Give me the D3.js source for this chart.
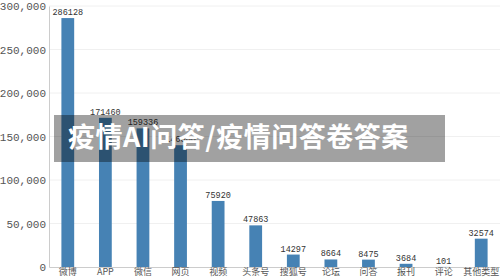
<!DOCTYPE html>
<html>
<head>
<meta charset="utf-8">
<script src="https://cdn.jsdelivr.net/npm/d3@7"></script>
<style>
  body { margin: 0; background: #fff; }
  svg { display: block; }
</style>
</head>
<body>
<div id="chart"></div>
<script>
// data
var categories = ["微博", "APP", "微信", "网页", "视频", "头条号", "搜狐号", "论坛", "问答", "报刊", "评论", "其他类型"];
var counts = [286128, 171460, 159336, 140000, 75920, 47863, 14297, 8664, 8475, 3684, 101, 32574];
var yTicks = [0, 50000, 100000, 150000, 200000, 250000, 300000];
var title = "疫情AI问答/疫情问答卷答案";

var width = 500, height = 278;
var margin = {top: 6, right: 0, bottom: 11, left: 49};

var svg = d3.select("#chart").append("svg")
    .attr("width", width)
    .attr("height", height);

var x = d3.scaleBand()
    .domain(categories)
    .range([margin.left, width - margin.right])
    .paddingInner(0.66)
    .paddingOuter(0.33);

var y = d3.scaleLinear()
    .domain([0, 300000])
    .range([height - margin.bottom, margin.top]);

// grid
svg.append("g").selectAll("line")
    .data(yTicks.slice(1))
    .enter().append("line")
    .attr("x1", margin.left).attr("x2", width)
    .attr("y1", function(d) { return y(d); })
    .attr("y2", function(d) { return y(d); })
    .style("stroke", "#f0f0f0");

// y axis
var yAxis = svg.append("g")
    .attr("transform", "translate(" + margin.left + ",0)")
    .call(d3.axisLeft(y).tickValues(yTicks).tickSize(0).tickPadding(3)
        .tickFormat(d3.format(",")));
yAxis.select(".domain").style("stroke", "#ccc");
yAxis.selectAll("text")
    .style("font-family", "'Liberation Mono', monospace")
    .style("font-size", "11px")
    .style("fill", "#555");

// bars
svg.append("g").selectAll("rect")
    .data(counts)
    .enter().append("rect")
    .attr("x", function(d, i) { return x(categories[i]); })
    .attr("y", function(d) { return y(d); })
    .attr("width", x.bandwidth())
    .attr("height", function(d) { return y(0) - y(d); })
    .style("fill", "#4682b4");

// value labels
svg.append("g").selectAll("text")
    .data(counts)
    .enter().append("text")
    .attr("x", function(d, i) { return x(categories[i]) + x.bandwidth() / 2; })
    .attr("y", function(d) { return y(d) - 3; })
    .attr("text-anchor", "middle")
    .style("font-family", "'Liberation Mono', monospace")
    .style("font-size", "8.5px")
    .style("fill", "#333")
    .text(function(d) { return d; });

// x axis
var xAxis = svg.append("g")
    .attr("transform", "translate(0," + y(0) + ")")
    .call(d3.axisBottom(x).tickSize(0).tickPadding(2));
xAxis.select(".domain").style("stroke", "#ccc");
xAxis.selectAll("text")
    .style("font-family", "'Noto Sans CJK SC', sans-serif")
    .style("font-size", "9px")
    .style("fill", "#555");

// title banner on top
var banner = svg.append("g");
banner.append("rect")
    .attr("x", 54).attr("y", 115)
    .attr("width", 391).attr("height", 47)
    .style("fill", "rgba(0,0,0,0.37)");
banner.append("text")
    .attr("x", 68).attr("y", 147)
    .style("font-family", "'Noto Sans CJK SC', sans-serif")
    .style("font-weight", "bold")
    .style("font-size", "27px")
    .style("letter-spacing", "0.5px")
    .style("fill", "#fff")
    .text(title);
</script>
</body>
</html>
